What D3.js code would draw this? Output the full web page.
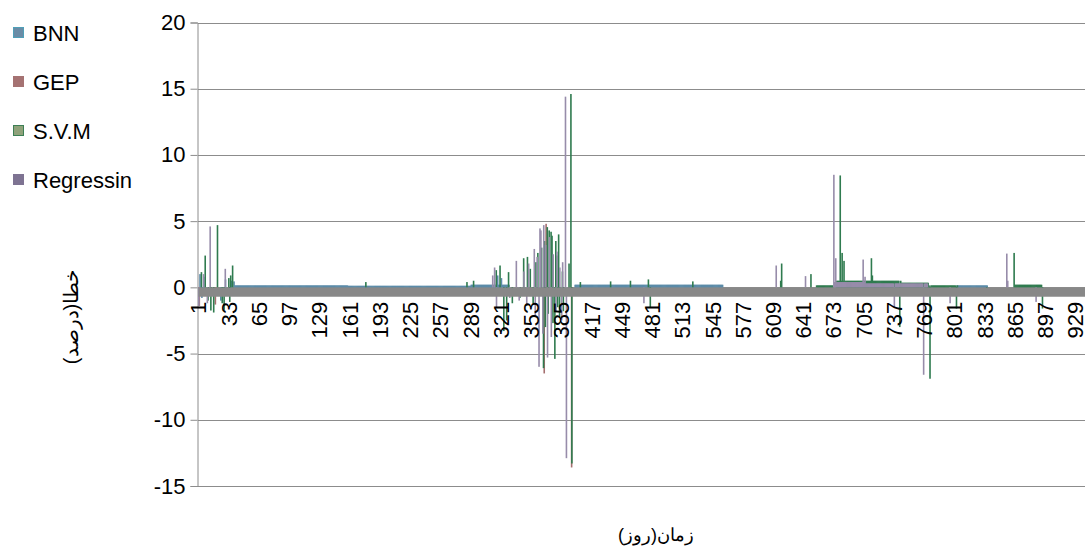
<!DOCTYPE html>
<html><head><meta charset="utf-8">
<script src="https://cdn.jsdelivr.net/npm/d3@7"></script>
<style>
html,body{margin:0;padding:0;background:#fff;overflow:hidden}
svg{display:block}
text{font-family:"Liberation Sans",Arial,sans-serif}
</style></head><body>
<svg id="c" width="1085" height="548"></svg>
<script>
// ---- data ----
const dayCount = 940;
const seriesNames = ["BNN", "GEP", "S.V.M", "Regressin"];
const xTickLabels = [1,33,65,97,129,161,193,225,257,289,321,353,385,417,449,481,513,545,577,609,641,673,705,737,769,801,833,865,897,929];
const yTicks = [-15,-10,-5,0,5,10,15,20];

// plateau levels: [fromDay, toDay, value]
const bnnLevels = [[40,160,0.15],[160,290,0.12],[290,330,0.2],[400,556,0.2],[804,836,0.15]];
const gepLevels = [];
const svmLevels = [[655,672,0.15],[676,744,0.5],[745,773,0.35],[774,804,0.15],[864,894,0.2]];
const regLevels = [[674,705,0.4],[706,772,0.3]];

// individual days: [day, value]
const bnnSpikes = [[3,1.0],[7,0.8],[30,0.6],[36,0.5],[39,0.45],[5,-0.8],[25,-1.0],[318,0.9],[322,0.7]];
const gepSpikes = [[2,-1.4],[19,-1.3],[369,4.8],[367,-6.5],[396,-13.6]];
const svmSpikes = [
  [4,1.15],[8,2.4],[21,4.7],[33,0.7],[35,0.9],[37,1.65],[11,-1.0],[14,-1.75],[17,-1.9],[26,-1.2],[28,-1.7],[34,-1.1],
  [178,0.4],[285,0.4],[292,0.5],[316,1.3],[320,1.65],[329,1.15],[324,-3.3],[327,-2.5],
  [333,-1.2],[341,-0.8],[345,2.2],[349,2.3],[352,1.4],[355,-1.2],[358,1.9],[360,2.6],[364,3.0],[366,-6.1],
  [367,3.5],[368,-3.0],[370,4.55],[371,-2.0],[372,4.3],[374,4.2],[375,3.9],[376,-2.7],[378,-5.4],[379,3.5],
  [380,2.4],[381,-1.5],[382,4.0],[383,-2.25],[386,1.2],[387,-1.8],[393,1.8],[395,14.6],[396,-13.3],
  [405,0.4],[437,0.45],[458,0.5],[477,0.6],[479,-1.5],[524,0.45],
  [617,0.5],[618,1.8],[649,1.0],[680,8.45],[682,2.6],[684,2.0],[713,2.2],[714,0.9],
  [743,-3.0],[775,-6.9],[803,-1.6],[835,-0.15],[864,2.6],[894,-1.6]
];
const regSpikes = [
  [1,-1.4],[6,1.0],[10,-1.2],[13,4.6],[29,1.4],
  [312,0.9],[314,1.5],[316,-1.5],[330,-0.8],[337,2.0],[340,-1.0],[345,1.2],[348,-1.4],[350,1.8],
  [356,2.9],[357,-2.2],[359,2.3],[361,-6.0],[362,4.45],[363,4.3],[365,-3.5],[366,4.7],[368,3.2],
  [370,-5.3],[372,3.8],[374,-3.75],[376,2.5],[379,-1.8],[380,2.7],[383,1.5],[385,-2.5],[386,1.9],
  [389,14.4],[390,-12.9],[472,-1.2],
  [612,1.65],[643,0.85],[673,8.5],[675,2.2],[704,2.1],[706,0.8],[737,-1.5],[768,-6.6],[796,-1.2],
  [856,2.55],[857,0.5],[887,-1.1]
];

const seriesFill = ["#5b8ba8","#a56f6f","#2f7b4f","#978caa"];
const legendFill = ["#6a8ca6","#a57272","#8fa27a","#7e7392"];
const legendStroke = ["#4f9fb8","#a57272","#3d7f55","#7e7392"];

function build(levels, spikes){
  const v = new Array(dayCount).fill(0);
  levels.forEach(([a,b,val])=>{ for(let d=a; d<=b; d++) v[d-1]=val; });
  spikes.forEach(([d,val])=>{ v[d-1]=val; });
  return v;
}
const series = [
  build(bnnLevels,bnnSpikes),
  build(gepLevels,gepSpikes),
  build(svmLevels,svmSpikes),
  build(regLevels,regSpikes)
];

// ---- chart ----
const svg = d3.select("#c");
const plotL = 198, plotR = 198 + dayCount*0.945, plotT = 22.5, plotB = 486;
const days = d3.range(1, dayCount+1);
const x = d3.scaleBand().domain(days).range([plotL, plotR]);
const xs = d3.scaleBand().domain(d3.range(4)).range([0, x.bandwidth()]);
const y = d3.scaleLinear().domain([-15,20]).range([plotB, plotT]);

// gridlines
svg.append("g").selectAll("line").data(yTicks).join("line")
  .attr("x1", plotL).attr("x2", plotR)
  .attr("y1", d=>Math.round(y(d))+0.5).attr("y2", d=>Math.round(y(d))+0.5)
  .attr("stroke", "#8c8c8c").attr("stroke-width", 1);

// y axis
const ya = svg.append("g").attr("transform", `translate(${plotL-0.5},0)`)
  .call(d3.axisLeft(y).tickValues(yTicks).tickSize(7).tickPadding(5).tickFormat(d=>String(d)));
ya.select(".domain").attr("stroke","#8c8c8c");
ya.selectAll(".tick line").attr("stroke","#8c8c8c");
ya.selectAll("text").attr("font-size", 22).attr("fill","#000").attr("font-family","Liberation Sans, Arial, sans-serif");

// bars
const bw = 1.6;
series.forEach((vals, si)=>{
  svg.append("g").selectAll("rect").data(vals.map((v,i)=>({d:i+1,v})).filter(o=>o.v!==0)).join("rect")
    .attr("x", o=>x(o.d)+xs(si)-bw/2+xs.bandwidth()/2)
    .attr("width", bw)
    .attr("y", o=>Math.min(y(o.v), y(0)))
    .attr("height", o=>Math.abs(y(o.v)-y(0)))
    .attr("fill", seriesFill[si]);
});

// category axis (thick band)
const xa = svg.append("g").attr("transform", `translate(0,${y(0)+4.5})`)
  .call(d3.axisBottom(x).tickValues(xTickLabels).tickSize(0).tickSizeOuter(0));
xa.select(".domain").attr("stroke","#888888").attr("stroke-width",9);
xa.selectAll("text")
  .attr("transform","rotate(-90)")
  .attr("text-anchor","end")
  .attr("x",-10).attr("y",0).attr("dy","0.36em")
  .attr("font-size",22).attr("fill","#000").attr("font-family","Liberation Sans, Arial, sans-serif");

// legend
const lg = svg.append("g");
seriesNames.forEach((n,i)=>{
  const cy = 33 + i*49;
  lg.append("rect").attr("x",13.5).attr("y",cy-5.5).attr("width",10).attr("height",10)
    .attr("fill",legendFill[i]).attr("stroke",legendStroke[i]).attr("stroke-width",1);
  lg.append("text").attr("x",33).attr("y",cy).attr("dy","0.36em").attr("font-size",22).attr("fill","#000").text(n);
});

// axis titles
svg.append("text").attr("transform","translate(71,317) rotate(-90)")
  .attr("text-anchor","middle").attr("dy","0.35em")
  .attr("font-family","DejaVu Sans, sans-serif").attr("font-size",20).attr("fill","#000")
  .text("خطا(درصد)");
svg.append("text").attr("x",656).attr("y",541)
  .attr("text-anchor","middle")
  .attr("font-family","DejaVu Sans, sans-serif").attr("font-size",18).attr("fill","#000")
  .text("زمان(روز)");
</script>
</body></html>
